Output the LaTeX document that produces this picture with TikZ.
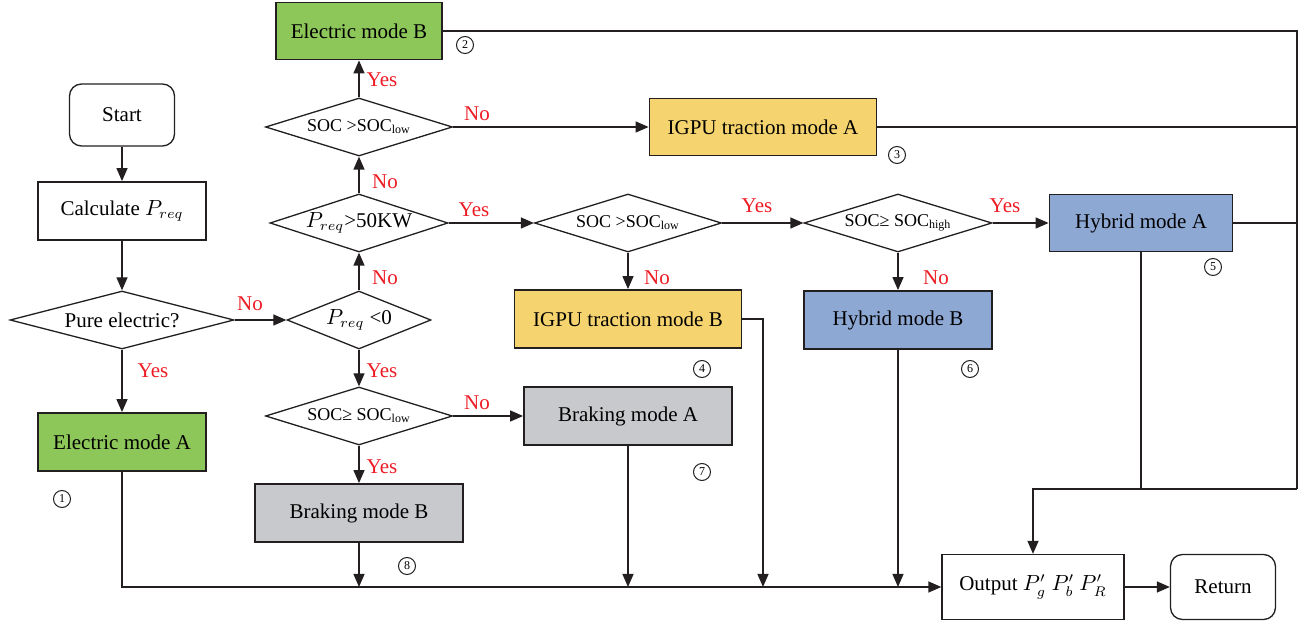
\documentclass[tikz,border=0pt]{standalone}
\usepackage{fontspec}
\setmainfont{Liberation Serif}
\usetikzlibrary{arrows.meta,shapes.geometric,calc}
\definecolor{cgreen}{RGB}{141,198,89}
\definecolor{cyellow}{RGB}{245,211,110}
\definecolor{cblue}{RGB}{142,168,212}
\definecolor{cgray}{RGB}{200,201,204}
\definecolor{cred}{RGB}{237,28,36}
\definecolor{cline}{RGB}{35,31,32}
\begin{document}
\begin{tikzpicture}[x=0.5pt,y=-0.5pt,
  box/.style={draw=cline, line width=0.9pt, inner sep=0pt, align=center, font=\fontsize{10.5}{12}\selectfont},
  rbox/.style={box, line width=0.65pt, rounded corners=6pt},
  dia/.style={diamond, draw=cline, line width=0.65pt, inner sep=0pt, aspect=3.2, minimum height=29pt, font=\fontsize{9}{10}\selectfont},
  arr/.style={-{Triangle[length=6.5pt,width=5.5pt]}, line width=0.65pt, draw=cline},
  ln/.style={line width=0.65pt, draw=cline},
  lbl/.style={text=cred, inner sep=0pt, font=\fontsize{10.5}{12}\selectfont},
  num/.style={circle, draw=cline, line width=0.5pt, inner sep=0pt, minimum size=8.5pt, font=\fontsize{6}{6}\selectfont}]
\useasboundingbox (0,0) rectangle (1298,625);

% nodes
\node[rbox, minimum width=52.5pt, minimum height=31pt] (start) at (122,115) {Start};
\node[box, minimum width=84pt, minimum height=29pt] (calc) at (122,211) {Calculate \(P_{req}\)};
\node[dia, minimum width=112pt, font=\fontsize{10.5}{12}\selectfont] (pure) at (122,320) {Pure electric?};
\node[box, fill=cgreen, minimum width=84pt, minimum height=29pt] (ea) at (122,442) {Electric mode A};

\node[box, fill=cgreen, minimum width=83pt, minimum height=28.5pt] (eb) at (359,31) {Electric mode B};
\node[dia, minimum width=93.5pt] (s1) at (359,127) {SOC \textgreater SOC\textsubscript{low}};
\node[dia, minimum width=89pt, font=\fontsize{10.5}{12}\selectfont] (p50) at (359,223) {\(P_{req}\)\textgreater 50KW};
\node[dia, minimum width=72pt, font=\fontsize{10.5}{12}\selectfont] (p0) at (359,320) {\(P_{req}\) \textless 0};
\node[dia, minimum width=93.5pt] (s4) at (359,416) {SOC≥ SOC\textsubscript{low}};
\node[box, fill=cgray, minimum width=104pt, minimum height=29pt] (brb) at (359,513) {Braking mode B};

\node[box, fill=cyellow, minimum width=113.5pt, minimum height=28.5pt] (iga) at (763,127) {IGPU traction mode A};
\node[dia, minimum width=93.5pt] (s2) at (628,223) {SOC \textgreater SOC\textsubscript{low}};
\node[box, fill=cyellow, minimum width=113.5pt, minimum height=29pt] (igb) at (628,319) {IGPU traction mode B};
\node[box, fill=cgray, minimum width=104pt, minimum height=29pt] (bra) at (628,416) {Braking mode A};

\node[dia, minimum width=94pt] (s3) at (898,223) {SOC≥ SOC\textsubscript{high}};
\node[box, fill=cblue, minimum width=94pt, minimum height=29pt] (hb) at (898,320) {Hybrid mode B};
\node[box, fill=cblue, minimum width=91.5pt, minimum height=28.5pt] (ha) at (1141,223) {Hybrid mode A};

\node[box, line width=0.65pt, minimum width=91pt, minimum height=32.5pt] (out) at (1033,587) {Output \(P'_g\) \(P'_b\) \(P'_R\)};
\node[rbox, minimum width=52.5pt, minimum height=32.5pt] (ret) at (1223,587) {Return};

\coordinate (rb) at (1297,489);
\coordinate (bigb) at (763,587);

% circled numbers
\node[num] (n1) at (62,499) {1};
\node[num] (n2) at (465,45) {2};
\node[num] (n3) at (897,155) {3};
\node[num] (n4) at (702,369) {4};
\node[num] (n5) at (1213,267) {5};
\node[num] (n6) at (970,369) {6};
\node[num] (n7) at (702,472) {7};
\node[num] (n8) at (407,566) {8};

% connectors
\draw[arr] (start) -- (calc);
\draw[arr] (calc) -- (pure);
\draw[arr] (pure) -- (ea);
\draw[arr] (pure) -- (p0);
\draw[arr] (p0) -- (p50);
\draw[arr] (p50) -- (s1);
\draw[arr] (s1) -- (eb);
\draw[arr] (s1) -- (iga);
\draw[arr] (p50) -- (s2);
\draw[arr] (s2) -- (s3);
\draw[arr] (s3) -- (ha);
\draw[arr] (s2) -- (igb);
\draw[arr] (s3) -- (hb);
\draw[arr] (p0) -- (s4);
\draw[arr] (s4) -- (bra);
\draw[arr] (s4) -- (brb);

\draw[arr] (ea.south) |- (out.west);
\draw[arr] (brb.south) -- (brb.south |- out.west);
\draw[arr] (bra.south) -- (bra.south |- out.west);
\draw[arr] (igb.east) -| (bigb);
\draw[arr] (hb.south) -- (hb.south |- out.west);

\draw[ln] (eb.east) -| (rb);
\draw[ln] (iga.east) -- (iga.east -| rb);
\draw[ln] (ha.east) -- (ha.east -| rb);
\draw[ln] (ha.south) -- (ha.south |- rb);
\draw[arr] (rb) -| (out.north);
\draw[arr] (out) -- (ret);

% labels
\node[lbl] at (153,371) {Yes};
\node[lbl] at (250,304) {No};
\node[lbl] at (385,278) {No};
\node[lbl] at (385,182) {No};
\node[lbl] at (382,80) {Yes};
\node[lbl] at (477,114) {No};
\node[lbl] at (474,210) {Yes};
\node[lbl] at (757,206) {Yes};
\node[lbl] at (1005,206) {Yes};
\node[lbl] at (657,278) {No};
\node[lbl] at (936,278) {No};
\node[lbl] at (382,371) {Yes};
\node[lbl] at (477,403) {No};
\node[lbl] at (382,467) {Yes};
\end{tikzpicture}
\end{document}
